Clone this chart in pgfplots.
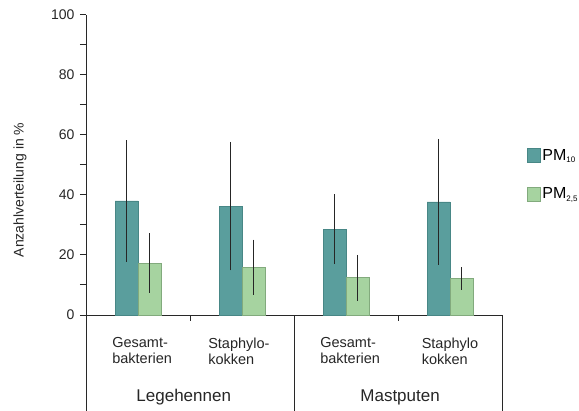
\documentclass[border=0pt]{standalone}
\usepackage{pgfplots}
\pgfplotsset{compat=1.18}
\usepackage{fontspec}
\setmainfont{Liberation Sans}
\definecolor{teal1}{RGB}{90,158,157}
\definecolor{teal1e}{RGB}{72,135,134}
\definecolor{green1}{RGB}{166,211,160}
\definecolor{green1e}{RGB}{130,170,125}
\definecolor{axgray}{RGB}{40,40,40}
\newcommand{\sub}[1]{\raisebox{-2.5bp}{\fontsize{8bp}{9bp}\selectfont #1}}
\begin{document}
\begin{tikzpicture}[x=1bp,y=1bp]
\begin{axis}[
  at={(86bp,96bp)}, anchor=south west,
  scale only axis, width=416bp, height=300bp,
  xmin=-0.5, xmax=3.5, ymin=0, ymax=100,
  axis x line*=bottom, axis y line*=left,
  axis line style={axgray, line width=1bp, -},
  ytick={0,20,40,60,80,100},
  minor ytick={10,30,50,70,90},
  xtick={0.5,2.5}, xticklabels={},
  tick align=outside,
  major tick length=6bp, minor tick length=6bp,
  tick style={axgray, line width=1bp},
  /pgf/number format/assume math mode=true,
  yticklabel style={font=\fontsize{14bp}{16bp}\selectfont, text=black!85, xshift=-2bp},
  ybar=0pt, bar width=23bp,
  clip=false,
  legend style={at={(rel axis cs:1.059,0.56)}, anchor=north west, draw=none, fill=none,
    font=\fontsize{16bp}{18bp}\selectfont, row sep=22bp, inner sep=0pt,
    /tikz/every even column/.append style={column sep=3bp}},
  legend image code/.code={\draw[#1] (0bp,-7bp) rectangle (13bp,7bp);},
  legend cell align=left,
]
\addplot+[fill=teal1, draw=teal1e, line width=0.6bp,
  error bars/.cd, y dir=both, y explicit, error mark=none,
  error bar style={black!85, line width=1.4bp}]
  coordinates {(0,38) +- (0,20.2) (1,36.3) +- (0,21.4) (2,28.6) +- (0,11.65) (3,37.7) +- (0,21)};
\addplot+[fill=green1, draw=green1e, line width=0.6bp,
  error bars/.cd, y dir=both, y explicit, error mark=none,
  error bar style={black!85, line width=1.4bp}]
  coordinates {(0,17.3) +- (0,9.9) (1,15.9) +- (0,9.2) (2,12.4) +- (0,7.6) (3,12.2) +- (0,3.75)};
\legend{PM\sub{10}, PM\sub{2,5}}
% category frame lines
\draw[axgray, line width=1bp] (rel axis cs:0,0) -- (rel axis cs:0,-0.33);
\draw[axgray, line width=1bp] (axis cs:1.5,0) -- (axis cs:1.5,-33);
\draw[axgray, line width=1bp] (rel axis cs:1,0) -- (rel axis cs:1,-0.33);
% category labels
\node[align=left, font=\fontsize{14.5bp}{16bp}\selectfont, text=black!85] at (axis cs:0.04,0) [yshift=-36bp] {Gesamt-\\bakterien};
\node[align=left, font=\fontsize{14.5bp}{16bp}\selectfont, text=black!85] at (axis cs:0.97,0) [yshift=-36bp] {Staphylo-\\kokken};
\node[align=left, font=\fontsize{14.5bp}{16bp}\selectfont, text=black!85] at (axis cs:2.04,0) [yshift=-36bp] {Gesamt-\\bakterien};
\node[align=left, font=\fontsize{14.5bp}{16bp}\selectfont, text=black!85] at (axis cs:3.0,0) [yshift=-36bp] {Staphylo\\kokken};
\node[font=\fontsize{17bp}{19bp}\selectfont, text=black!85] at (axis cs:0.44,0) [yshift=-82bp] {Legehennen};
\node[font=\fontsize{17bp}{19bp}\selectfont, text=black!85] at (axis cs:2.52,0) [yshift=-82bp] {Mastputen};
\end{axis}
\node[rotate=90, font=\fontsize{14bp}{16bp}\selectfont, text=black!85] at (20bp,221bp) {Anzahlverteilung in \%};
\pgfresetboundingbox
\useasboundingbox (0,0) rectangle (579bp,411bp);
\end{tikzpicture}
\end{document}
